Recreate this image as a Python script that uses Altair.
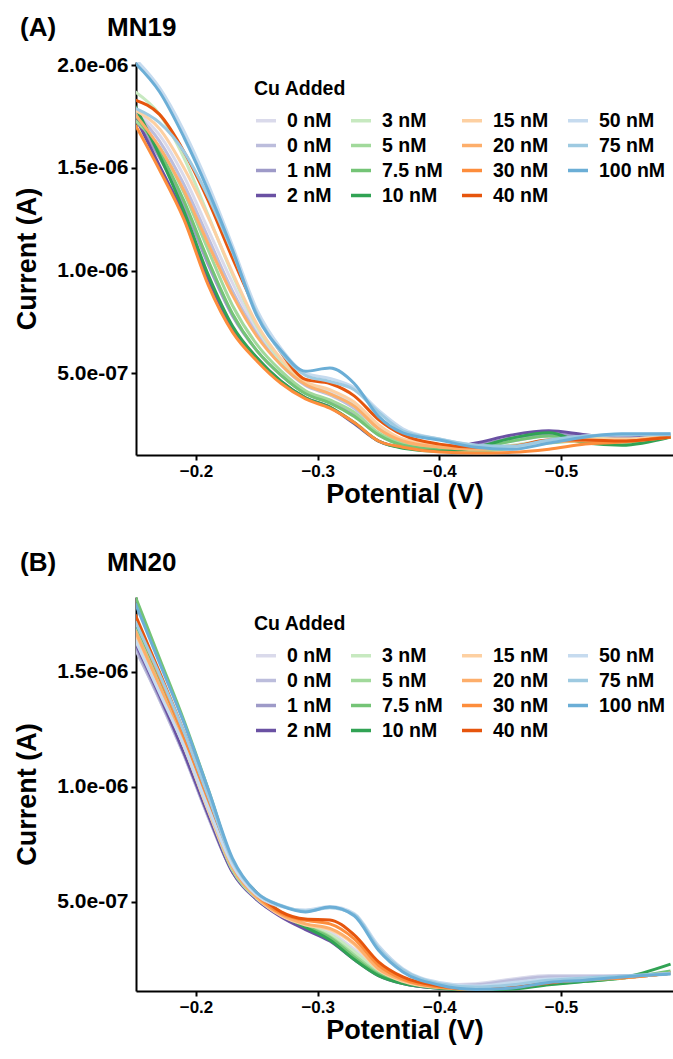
import altair as alt
import pandas as pd

# Potential grid (V)
potential = [-0.15, -0.17, -0.19, -0.21, -0.23, -0.25, -0.27, -0.29, -0.31, -0.33,
             -0.35, -0.37, -0.40, -0.43, -0.46, -0.49, -0.52, -0.55, -0.59]

# Series keys, legend labels and colours (ascending Cu added)
series_keys = ["0a", "0b", "1", "2", "3", "5", "7.5", "10", "15", "20", "30", "40", "50", "75", "100"]
series_colors = ["#dadaeb", "#bcbddc", "#9e9ac8", "#6a51a3",
                 "#c7e9c0", "#a1d99b", "#74c476", "#31a354",
                 "#fdd0a2", "#fdae6b", "#fd8d3c", "#e6550d",
                 "#c6dbef", "#9ecae1", "#6baed6"]

# ---- MN19 currents (units of 1e-7 A) ----
mn19_0a = [17.8, 16.6, 14.6, 12.0, 9.4, 7.1, 5.6, 4.55, 4.1, 3.45, 2.4, 1.75, 1.5, 1.5, 1.75, 2.0, 1.95, 1.9, 2.0]
mn19_0b = [17.7, 16.3, 14.2, 11.6, 9.0, 6.9, 5.4, 4.4, 3.95, 3.3, 2.3, 1.7, 1.45, 1.45, 1.7, 1.95, 1.9, 1.85, 1.95]
mn19_1 = [17.4, 15.5, 13.2, 10.3, 7.8, 6.1, 4.9, 4.05, 3.6, 2.95, 2.0, 1.55, 1.35, 1.5, 1.85, 2.05, 1.9, 1.8, 1.95]
mn19_2 = [17.5, 15.1, 12.7, 9.6, 7.2, 5.75, 4.6, 3.8, 3.35, 2.55, 1.7, 1.4, 1.3, 1.6, 2.0, 2.2, 2.0, 1.85, 1.95]
mn19_3 = [18.7, 17.6, 15.5, 12.7, 9.8, 7.3, 5.6, 4.5, 4.0, 3.4, 2.3, 1.7, 1.45, 1.35, 1.5, 1.75, 1.85, 1.8, 1.95]
mn19_5 = [17.3, 16.0, 13.8, 11.0, 8.3, 6.4, 5.1, 4.15, 3.7, 3.1, 2.1, 1.6, 1.3, 1.2, 1.35, 1.6, 1.7, 1.7, 1.9]
mn19_7_5 = [17.6, 15.8, 13.4, 10.5, 7.9, 6.1, 4.9, 4.0, 3.55, 2.9, 2.0, 1.5, 1.3, 1.35, 1.7, 1.95, 1.8, 1.65, 1.9]
mn19_10 = [18.0, 15.6, 12.9, 9.8, 7.3, 5.75, 4.6, 3.8, 3.35, 2.6, 1.7, 1.35, 1.2, 1.4, 1.85, 2.1, 1.6, 1.5, 1.9]
mn19_15 = [17.8, 16.9, 15.0, 12.6, 9.9, 7.4, 5.7, 4.6, 4.2, 3.6, 2.5, 1.8, 1.5, 1.35, 1.45, 1.7, 1.8, 1.8, 1.95]
mn19_20 = [17.6, 16.0, 13.9, 11.3, 8.8, 6.8, 5.4, 4.45, 4.0, 3.4, 2.3, 1.7, 1.4, 1.3, 1.4, 1.65, 1.7, 1.7, 1.9]
mn19_30 = [17.1, 14.9, 12.5, 9.3, 7.0, 5.6, 4.5, 3.75, 3.3, 2.6, 1.7, 1.4, 1.17, 1.12, 1.15, 1.3, 1.55, 1.65, 1.95]
mn19_40 = [18.3, 17.6, 15.8, 13.4, 10.6, 8.0, 6.0, 4.7, 4.5, 3.9, 2.75, 2.0, 1.55, 1.4, 1.45, 1.75, 1.75, 1.7, 1.9]
mn19_50 = [20.3, 18.9, 16.8, 14.2, 11.2, 8.1, 6.2, 5.0, 4.75, 4.3, 3.2, 2.3, 1.8, 1.5, 1.4, 1.7, 1.95, 2.0, 2.05]
mn19_75 = [17.9, 17.2, 15.8, 13.6, 10.9, 7.9, 6.0, 4.9, 4.6, 4.2, 3.1, 2.2, 1.8, 1.5, 1.45, 1.75, 1.95, 2.0, 2.0]
mn19_100 = [20.1, 18.7, 16.5, 13.9, 11.0, 7.8, 6.1, 5.1, 5.25, 4.5, 2.9, 2.1, 1.75, 1.4, 1.3, 1.6, 1.9, 2.05, 2.05]

# ---- MN20 currents (units of 1e-7 A) ----
mn20_0a = [16.1, 13.8, 11.4, 8.7, 6.3, 5.15, 4.5, 4.05, 3.7, 2.95, 2.1, 1.65, 1.4, 1.45, 1.65, 1.8, 1.8, 1.8, 1.95]
mn20_0b = [16.0, 13.8, 11.4, 8.7, 6.3, 5.1, 4.4, 3.9, 3.45, 2.7, 1.95, 1.55, 1.35, 1.4, 1.6, 1.75, 1.75, 1.78, 1.9]
mn20_1 = [16.2, 13.9, 11.5, 8.8, 6.3, 5.1, 4.4, 3.85, 3.35, 2.55, 1.85, 1.48, 1.27, 1.25, 1.4, 1.6, 1.65, 1.72, 1.9]
mn20_2 = [16.3, 14.0, 11.5, 8.8, 6.3, 5.1, 4.35, 3.8, 3.3, 2.5, 1.8, 1.45, 1.25, 1.2, 1.3, 1.5, 1.6, 1.7, 1.9]
mn20_3 = [16.6, 14.3, 11.8, 9.0, 6.4, 5.15, 4.45, 4.0, 3.6, 2.85, 2.0, 1.55, 1.3, 1.25, 1.35, 1.55, 1.65, 1.72, 1.9]
mn20_5 = [16.9, 14.5, 11.9, 9.1, 6.4, 5.2, 4.45, 3.95, 3.5, 2.7, 1.9, 1.5, 1.28, 1.22, 1.3, 1.5, 1.6, 1.7, 1.9]
mn20_7_5 = [18.3, 15.6, 12.9, 9.9, 6.8, 5.4, 4.55, 3.95, 3.45, 2.6, 1.85, 1.5, 1.27, 1.2, 1.25, 1.42, 1.55, 1.68, 2.0]
mn20_10 = [17.2, 14.8, 12.2, 9.3, 6.6, 5.3, 4.5, 3.9, 3.35, 2.5, 1.8, 1.45, 1.25, 1.18, 1.22, 1.4, 1.55, 1.7, 2.3]
mn20_15 = [16.5, 14.2, 11.8, 9.0, 6.5, 5.2, 4.4, 4.0, 3.8, 3.15, 2.05, 1.55, 1.28, 1.25, 1.35, 1.55, 1.65, 1.72, 1.9]
mn20_20 = [16.8, 14.4, 11.9, 9.1, 6.5, 5.2, 4.45, 4.05, 3.85, 3.2, 2.1, 1.6, 1.28, 1.2, 1.3, 1.5, 1.62, 1.7, 1.9]
mn20_30 = [17.3, 14.8, 12.2, 9.4, 6.6, 5.3, 4.5, 4.2, 4.05, 3.4, 2.25, 1.65, 1.3, 1.2, 1.3, 1.5, 1.65, 1.7, 1.9]
mn20_40 = [17.5, 15.0, 12.4, 9.6, 6.7, 5.4, 4.57, 4.26, 4.22, 3.57, 2.4, 1.74, 1.35, 1.22, 1.3, 1.48, 1.65, 1.74, 1.9]
mn20_50 = [16.4, 14.1, 11.8, 9.1, 6.6, 5.3, 4.8, 4.65, 4.8, 4.5, 3.1, 2.1, 1.5, 1.35, 1.5, 1.65, 1.7, 1.75, 1.9]
mn20_75 = [17.2, 14.9, 12.4, 9.6, 6.8, 5.4, 4.85, 4.6, 4.75, 4.45, 3.0, 2.05, 1.45, 1.3, 1.4, 1.6, 1.7, 1.78, 1.9]
mn20_100 = [18.0, 15.4, 12.8, 9.9, 6.9, 5.4, 4.83, 4.57, 4.78, 4.4, 2.9, 1.96, 1.39, 1.2, 1.26, 1.5, 1.6, 1.74, 1.87]

mn19 = [mn19_0a, mn19_0b, mn19_1, mn19_2, mn19_3, mn19_5, mn19_7_5, mn19_10,
        mn19_15, mn19_20, mn19_30, mn19_40, mn19_50, mn19_75, mn19_100]
mn20 = [mn20_0a, mn20_0b, mn20_1, mn20_2, mn20_3, mn20_5, mn20_7_5, mn20_10,
        mn20_15, mn20_20, mn20_30, mn20_40, mn20_50, mn20_75, mn20_100]

FONT = "Liberation Sans"


def long_table(series_list):
    rows = []
    for order, (key, vals) in enumerate(zip(series_keys, series_list)):
        for v, c in zip(potential, vals):
            rows.append({"series": key, "order": order, "V": v, "I": c * 1e-7})
    return pd.DataFrame(rows)


color_scale = alt.Scale(domain=series_keys, range=series_colors)

label_expr = "(datum.label == '0a' || datum.label == '0b') ? '0 nM' : datum.label + ' nM'"
y_label_expr = "replace(format(datum.value, '.1e'), 'e-', 'e-0')"


def panel(series_list, tag, name, ydom, yticks, height):
    df = long_table(series_list)
    lines = alt.Chart(df).mark_line(clip=True, strokeWidth=3, interpolate="monotone").encode(
        x=alt.X("V:Q",
                scale=alt.Scale(domain=[-0.592, -0.1507], reverse=True, nice=False, zero=False),
                axis=alt.Axis(values=[-0.2, -0.3, -0.4, -0.5], format=".1f",
                              title="Potential (V)", labelFontSize=17, titlePadding=2)),
        y=alt.Y("I:Q",
                scale=alt.Scale(domain=ydom, nice=False, zero=False),
                axis=alt.Axis(values=yticks, labelExpr=y_label_expr, title="Current (A)",
                              labelFontSize=21, titlePadding=15)),
        color=alt.Color("series:N", scale=color_scale,
                        legend=alt.Legend(title="Cu Added", orient="none",
                                          legendX=118, legendY=18, columns=4,
                                          labelExpr=label_expr, symbolType="stroke",
                                          symbolSize=400, symbolStrokeWidth=3.5,
                                          labelOffset=9, columnPadding=12,
                                          rowPadding=3, titlePadding=9, padding=0,
                                          labelFontSize=19.5, titleFontSize=19.5,
                                          labelFont=FONT, titleFont=FONT,
                                          labelFontWeight="bold", titleFontWeight="bold",
                                          labelColor="black", titleColor="black")),
        order=alt.Order("order:Q"),
    )
    tags = pd.DataFrame({"t": [tag, name], "px": [-116, -29]})
    titles = alt.Chart(tags).mark_text(align="left", baseline="middle", fontSize=26,
                                       fontWeight="bold", font=FONT, color="black").encode(
        x=alt.X("px:Q", scale=None), y=alt.value(-34), text="t:N")
    return alt.layer(lines, titles).resolve_scale(x="independent").properties(width=537, height=height)


top = panel(mn19, "(A)", "MN19", [1.02e-7, 2.015e-6], [5e-7, 1e-6, 1.5e-6, 2e-6], 393)
bottom = panel(mn20, "(B)", "MN20", [1.13e-7, 1.826e-6], [5e-7, 1e-6, 1.5e-6], 394)

chart = alt.vconcat(top, bottom, spacing=43).resolve_scale(color="independent").properties(
    padding={"left": 13, "top": 15, "right": 0, "bottom": 5}
).configure_view(
    stroke=None
).configure_axis(
    grid=False, domainColor="black", domainWidth=2, tickColor="black", tickWidth=2,
    tickSize=5, labelColor="black", labelFont=FONT, labelFontWeight="bold",
    titleFont=FONT, titleFontWeight="bold", titleFontSize=27, titleColor="black",
    labelPadding=3
)

chart.save("out.html", embed_options={"renderer": "svg", "actions": False})
